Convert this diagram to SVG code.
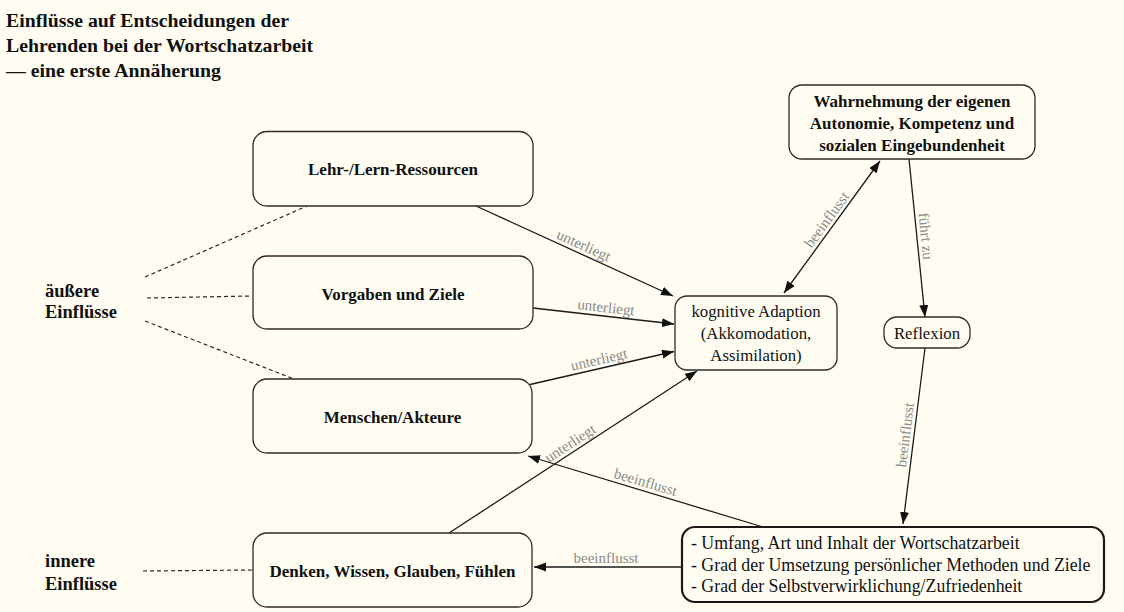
<svg xmlns="http://www.w3.org/2000/svg" width="1124" height="612" viewBox="0 0 1124 612">
  <style>
    .bg { fill: #fffdf1; }
    .box { fill: #fffdf1; stroke: #2b2b2b; stroke-width: 1.3; }
    .box-strong { fill: #fffdf1; stroke: #1a1a1a; stroke-width: 2.2; }
    .t { font-family: "Liberation Serif", "DejaVu Serif", serif; fill: #111; }
    .b { font-weight: bold; font-size: 17px; }
    .r { font-size: 16.8px; }
    .rl { font-size: 17.8px; }
    .grp { font-weight: bold; font-size: 18.5px; }
    .title { font-weight: bold; font-size: 19.8px; }
    .lbl { font-family: "Liberation Serif", "DejaVu Serif", serif; font-size: 15px; fill: #8a8a8a; text-anchor: middle; }
    .c { text-anchor: middle; }
    .edge { stroke: #1a1a1a; stroke-width: 1.3; fill: none; }
    .dash { stroke: #2b2b2b; stroke-width: 1.2; stroke-dasharray: 4 3; fill: none; }
  </style>
  <defs>
    <marker id="arrow" markerUnits="userSpaceOnUse" markerWidth="13" markerHeight="10" refX="12" refY="4.5" orient="auto-start-reverse">
      <path d="M0,0 L12,4.5 L0,9 z" fill="#111"/>
    </marker>
  </defs>

  <rect class="bg" x="0" y="0" width="1124" height="612"/>

  <!-- heading -->
  <g id="title" class="t title">
    <text x="6" y="27">Einflüsse auf Entscheidungen der</text>
    <text x="6" y="52">Lehrenden bei der Wortschatzarbeit</text>
    <text x="6" y="77">— eine erste Annäherung</text>
  </g>

  <!-- group labels on the left -->
  <g id="aeussere" class="t grp">
    <text x="45" y="297">äußere</text>
    <text x="45" y="318">Einflüsse</text>
  </g>
  <g id="innere" class="t grp">
    <text x="45" y="567">innere</text>
    <text x="45" y="590">Einflüsse</text>
  </g>

  <!-- dashed grouping lines -->
  <g id="grouping">
    <line class="dash" x1="145" y1="277" x2="307" y2="206"/>
    <line class="dash" x1="147" y1="298" x2="252" y2="296"/>
    <line class="dash" x1="145" y1="321" x2="294" y2="379"/>
    <line class="dash" x1="143" y1="571" x2="252" y2="570"/>
  </g>

  <!-- connectors -->
  <g id="connectors">
    <path class="edge" d="M476,206 L673,296" marker-end="url(#arrow)"/>
    <path class="edge" d="M533,308 L674,324" marker-end="url(#arrow)"/>
    <path class="edge" d="M530,384.5 L674,351.5" marker-end="url(#arrow)"/>
    <path class="edge" d="M449,533 L697,371" marker-end="url(#arrow)"/>
    <path class="edge" d="M784,293 L880,161" marker-start="url(#arrow)" marker-end="url(#arrow)"/>
    <path class="edge" d="M909,159 L925,317" marker-end="url(#arrow)"/>
    <path class="edge" d="M925,348 L903,524" marker-end="url(#arrow)"/>
    <path class="edge" d="M763,527 L528,456" marker-end="url(#arrow)"/>
    <path class="edge" d="M682,567 L534,567" marker-end="url(#arrow)"/>

    <text class="lbl" transform="translate(580,253.5) rotate(24.6)" y="-4">unterliegt</text>
    <text class="lbl" transform="translate(605,316.2) rotate(6.5)" y="-4">unterliegt</text>
    <text class="lbl" transform="translate(601,368.2) rotate(-12.9)" y="-4">unterliegt</text>
    <text class="lbl" transform="translate(575,450.7) rotate(-33.1)" y="-4">unterliegt</text>
    <text class="lbl" transform="translate(834,225) rotate(-53.8)" y="-4">beeinflusst</text>
    <text class="lbl" transform="translate(917,237) rotate(84.2)" y="-4">führt zu</text>
    <text class="lbl" transform="translate(914,436) rotate(-82.9)" y="-4">beeinflusst</text>
    <text class="lbl" transform="translate(643,490.7) rotate(16.8)" y="-4">beeinflusst</text>
    <text class="lbl" x="606" y="563">beeinflusst</text>
  </g>

  <!-- nodes -->
  <g id="lehr-lern-ressourcen">
    <rect class="box" x="253" y="131.5" width="280" height="74.5" rx="14"/>
    <text class="t b c" x="393" y="175">Lehr-/Lern-Ressourcen</text>
  </g>
  <g id="vorgaben-ziele">
    <rect class="box" x="253" y="256" width="280" height="73" rx="14"/>
    <text class="t b c" x="393" y="300">Vorgaben und Ziele</text>
  </g>
  <g id="menschen-akteure">
    <rect class="box" x="253" y="379" width="279" height="74" rx="14"/>
    <text class="t b c" x="392.5" y="423">Menschen/Akteure</text>
  </g>
  <g id="denken-wissen">
    <rect class="box" x="253" y="533" width="279" height="74" rx="14"/>
    <text class="t b c" x="392.5" y="577">Denken, Wissen, Glauben, Fühlen</text>
  </g>
  <g id="kognitive-adaption">
    <rect class="box" x="675" y="296" width="162" height="74" rx="12"/>
    <text class="t r c" x="756" y="317">kognitive Adaption</text>
    <text class="t r c" x="756" y="339">(Akkomodation,</text>
    <text class="t r c" x="756" y="361">Assimilation)</text>
  </g>
  <g id="wahrnehmung">
    <rect class="box" x="789" y="85" width="246" height="74" rx="13"/>
    <text class="t b c" x="912" y="107">Wahrnehmung der eigenen</text>
    <text class="t b c" x="912" y="129">Autonomie, Kompetenz und</text>
    <text class="t b c" x="912" y="151">sozialen Eingebundenheit</text>
  </g>
  <g id="reflexion">
    <rect class="box" x="884" y="317" width="86" height="31" rx="13"/>
    <text class="t r c" x="927" y="339">Reflexion</text>
  </g>
  <g id="ergebnisse">
    <rect class="box-strong" x="682" y="527" width="422" height="75" rx="13"/>
    <text class="t rl" x="691" y="549">- Umfang, Art und Inhalt der Wortschatzarbeit</text>
    <text class="t rl" x="691" y="571">- Grad der Umsetzung persönlicher Methoden und Ziele</text>
    <text class="t rl" x="691" y="592">- Grad der Selbstverwirklichung/Zufriedenheit</text>
  </g>
</svg>
